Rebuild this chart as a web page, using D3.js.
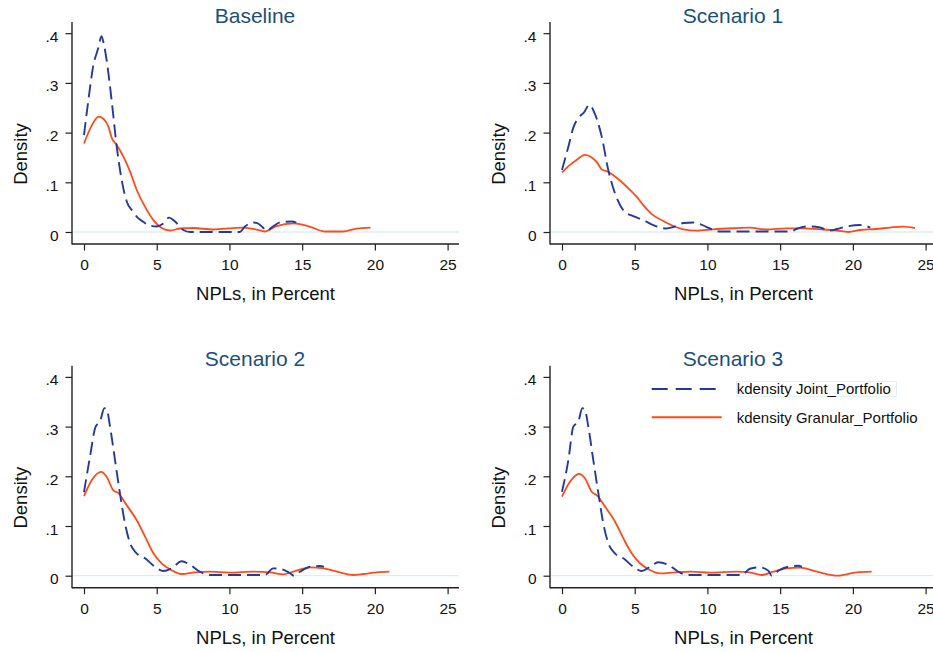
<!DOCTYPE html>
<html>
<head>
<meta charset="utf-8">
<script src="https://cdn.jsdelivr.net/npm/d3@7"></script>
<style>
  html, body { margin: 0; padding: 0; background: #ffffff; }
  svg { display: block; font-family: "Liberation Sans", Arial, Helvetica, sans-serif; }
</style>
</head>
<body>
<svg id="chart" width="933" height="652"></svg>
<script>
// ---------- DATA ----------
const panelTitles = ["Baseline", "Scenario 1", "Scenario 2", "Scenario 3"];
const seriesNames = ["kdensity Joint_Portfolio", "kdensity Granular_Portfolio"];
const xTicks = [0, 5, 10, 15, 20, 25];
const yTicks = [0, 0.1, 0.2, 0.3, 0.4];
const yTickLabels = ["0", ".1", ".2", ".3", ".4"];
const xAxisTitle = "NPLs, in Percent";
const yAxisTitle = "Density";

// [NPL percent, density]
const baselineJoint = [[0,0.195],[0.3,0.265],[0.64,0.335],[0.98,0.37],[1.2,0.394],[1.35,0.38],[1.56,0.345],[1.9,0.265],[2.25,0.172],[2.59,0.105],[2.93,0.062],[3.4,0.04],[3.62,0.031],[4.1,0.02],[4.42,0.014],[5.0,0.011],[5.4,0.016],[5.85,0.029],[6.26,0.021],[6.83,0.004],[7.3,0],[10.7,0],[11.07,0.011],[11.64,0.019],[11.9,0.018],[12.3,0.009],[12.56,0.002],[12.9,0.009],[13.5,0.0195],[14.28,0.021],[14.6,0.019]];
const baselineGranular = [[0,0.178],[0.53,0.214],[1.0,0.232],[1.33,0.228],[1.68,0.212],[1.9,0.19],[2.25,0.175],[2.7,0.152],[3.16,0.122],[3.62,0.085],[4.19,0.051],[4.77,0.024],[5.34,0.008],[5.91,0.003],[6.6,0.007],[7.5,0.008],[8.9,0.005],[10.27,0.008],[10.95,0.009],[11.87,0.005],[12.45,0.001],[13.24,0.012],[14.4,0.0175],[15.5,0.011],[16.57,0.001],[17.8,0.001],[18.75,0.007],[19.7,0.009]];

const scenario1Joint = [[0,0.125],[0.44,0.172],[0.78,0.21],[1.24,0.233],[1.5,0.24],[1.88,0.256],[2.27,0.237],[2.73,0.192],[3.18,0.125],[3.64,0.078],[4.33,0.04],[4.9,0.032],[5.59,0.024],[6.28,0.014],[7.19,0.007],[7.65,0.01],[8.34,0.018],[9.03,0.019],[9.5,0.016],[9.95,0.01],[10.86,0.001],[15.68,0.001],[16.2,0.007],[16.8,0.011],[17.2,0.011],[17.74,0.009],[18.4,0.003],[18.9,0.006],[19.57,0.011],[20.5,0.014],[21.2,0.009]];
const scenario1Granular = [[0,0.12],[0.55,0.135],[1.0,0.145],[1.58,0.155],[2.04,0.15],[2.38,0.141],[2.73,0.126],[3.18,0.121],[3.76,0.109],[4.45,0.091],[5.13,0.071],[5.59,0.054],[6.17,0.036],[6.97,0.022],[7.65,0.012],[8.34,0.0054],[9.26,0.0027],[10.4,0.0054],[11.78,0.0075],[12.9,0.0087],[14.07,0.005],[15.44,0.0074],[16.6,0.0074],[17.96,0.005],[18.9,0.003],[19.68,0.0],[20.5,0.004],[21.6,0.006],[22.55,0.009],[23.46,0.011],[24.27,0.008]];

const scenario2Joint = [[0,0.168],[0.41,0.239],[0.8,0.3],[1.1,0.31],[1.4,0.337],[1.56,0.335],[1.79,0.3],[2.13,0.233],[2.47,0.166],[2.82,0.105],[3.16,0.066],[3.62,0.045],[4.19,0.035],[4.88,0.018],[5.45,0.0094],[6.03,0.015],[6.71,0.029],[7.29,0.022],[7.97,0.008],[8.55,0.0015],[12.45,0.0015],[13.0,0.0148],[13.59,0.013],[14.16,0.005],[14.44,0],[14.85,0.008],[15.54,0.018],[16.2,0.0195],[16.5,0.018]];
const scenario2Granular = [[0,0.16],[0.53,0.192],[1.17,0.209],[1.56,0.199],[2.01,0.172],[2.36,0.166],[2.93,0.142],[3.62,0.112],[4.19,0.079],[4.77,0.045],[5.34,0.025],[5.91,0.013],[6.71,0.0034],[7.63,0.0067],[8.7,0.008],[10.04,0.0061],[11.64,0.0081],[12.79,0.0067],[13.7,0.0028],[14.39,0.0081],[15.54,0.0168],[16.45,0.0148],[17.6,0.0067],[18.5,0.0014],[19.2,0.0034],[20.1,0.0067],[21.0,0.0081]];

const scenario3Joint = [[0,0.169],[0.44,0.233],[0.78,0.3],[1.12,0.31],[1.4,0.337],[1.58,0.333],[1.81,0.3],[2.15,0.233],[2.5,0.166],[2.84,0.105],[3.18,0.066],[3.64,0.045],[4.22,0.035],[4.9,0.018],[5.48,0.0094],[6.05,0.018],[6.62,0.027],[7.3,0.022],[8.0,0.008],[8.57,0.0015],[12.35,0.0015],[12.92,0.014],[13.6,0.0168],[14.19,0.0101],[14.42,0],[14.88,0.0101],[15.56,0.018],[16.25,0.02],[16.5,0.018]];
const scenario3Granular = [[0,0.159],[0.55,0.189],[1.17,0.205],[1.58,0.196],[2.04,0.169],[2.38,0.162],[2.96,0.139],[3.64,0.109],[4.22,0.075],[4.79,0.045],[5.36,0.025],[5.94,0.013],[6.74,0.0047],[7.77,0.0067],[8.9,0.008],[10.18,0.006],[12.0,0.008],[12.9,0.0067],[13.73,0.0014],[14.53,0.0081],[15.45,0.0148],[16.36,0.0161],[17.51,0.0081],[19.0,0.0],[20.26,0.0067],[21.29,0.0081]];

// ---------- LAYOUT ----------
const jointColor = "#27399a";
const granularColor = "#ff4b1c";
const titleColor = "#1b4f7a";
const axisColor = "#222222";
const zeroLineColor = "#dcefef";

const panels = [
  { title: panelTitles[0], joint: baselineJoint, granular: baselineGranular, ox: 0, oy: 0 },
  { title: panelTitles[1], joint: scenario1Joint, granular: scenario1Granular, ox: 478, oy: 0 },
  { title: panelTitles[2], joint: scenario2Joint, granular: scenario2Granular, ox: 0, oy: 343.7 },
  { title: panelTitles[3], joint: scenario3Joint, granular: scenario3Granular, ox: 478, oy: 343.7, legend: true }
];

const svg = d3.select("#chart");

const x = d3.scaleLinear().domain([0, 25]).range([84, 447.6]);
const y = d3.scaleLinear().domain([0, 0.4]).range([232, 33.2]);
const axisLeftX = 72, axisBottomY = 244, axisTopY = 22, axisRightX = 459;

const line = d3.line()
  .x(d => x(d[0]))
  .y(d => y(d[1]))
  .curve(d3.curveMonotoneX);

panels.forEach(p => {
  const g = svg.append("g").attr("transform", `translate(${p.ox},${p.oy})`);

  // title
  g.append("text")
    .attr("x", 255).attr("y", 22.7)
    .attr("text-anchor", "middle")
    .attr("font-size", 21)
    .attr("fill", titleColor)
    .text(p.title);

  // zero line
  g.append("line")
    .attr("x1", axisLeftX).attr("x2", axisRightX)
    .attr("y1", y(0)).attr("y2", y(0))
    .attr("stroke", zeroLineColor).attr("stroke-width", 1.3);

  // axes
  const ya = d3.axisLeft(y).tickValues(yTicks)
    .tickFormat((d, i) => yTickLabels[i]).tickSize(6.5).tickSizeOuter(0).tickPadding(7);
  const yg = g.append("g").attr("transform", `translate(${axisLeftX},0)`).call(ya);
  yg.select(".domain").remove();
  yg.selectAll(".tick line").attr("stroke", axisColor).attr("stroke-width", 1.2);
  yg.selectAll(".tick text")
    .attr("font-size", 15.5).attr("fill", "#111")
    .attr("font-family", "'Liberation Sans', Arial, sans-serif")
    .attr("dy", "0.52em");

  const xa = d3.axisBottom(x).tickValues(xTicks).tickSize(6.5).tickSizeOuter(0);
  const xg = g.append("g").attr("transform", `translate(0,${axisBottomY})`).call(xa);
  xg.select(".domain").remove();
  xg.selectAll(".tick line").attr("stroke", axisColor).attr("stroke-width", 1.2);
  xg.selectAll(".tick text")
    .attr("font-size", 15.5).attr("fill", "#111")
    .attr("font-family", "'Liberation Sans', Arial, sans-serif")
    .attr("y", 26).attr("dy", 0);

  g.append("line")
    .attr("x1", axisLeftX).attr("x2", axisLeftX)
    .attr("y1", axisTopY).attr("y2", axisBottomY + 0.6)
    .attr("stroke", axisColor).attr("stroke-width", 1.4);
  g.append("line")
    .attr("x1", axisLeftX).attr("x2", axisRightX)
    .attr("y1", axisBottomY).attr("y2", axisBottomY)
    .attr("stroke", axisColor).attr("stroke-width", 1.4);

  // axis titles
  g.append("text")
    .attr("x", (axisLeftX + axisRightX) / 2).attr("y", 300)
    .attr("text-anchor", "middle")
    .attr("font-size", 18.5).attr("fill", "#111")
    .text(xAxisTitle);
  g.append("text")
    .attr("transform", `translate(27,${(axisTopY + axisBottomY) / 2 + 21}) rotate(-90)`)
    .attr("text-anchor", "middle")
    .attr("font-size", 18.5).attr("fill", "#111")
    .text(yAxisTitle);

  // curves
  g.append("path").datum(p.granular)
    .attr("d", line).attr("fill", "none")
    .attr("stroke", granularColor).attr("stroke-width", 1.8);
  g.append("path").datum(p.joint)
    .attr("d", line).attr("fill", "none")
    .attr("stroke", jointColor).attr("stroke-width", 1.9)
    .attr("stroke-dasharray", "13,6");

  if (p.legend) {
    const lg = g.append("g");
    const items = [
      { name: seriesNames[0], color: jointColor, dash: "16,8", y: 45.3 },
      { name: seriesNames[1], color: granularColor, dash: null, y: 73.6 }
    ];
    items.forEach((it, i) => {
      lg.append("line")
        .attr("x1", 173.7).attr("x2", 243.7)
        .attr("y1", it.y).attr("y2", it.y)
        .attr("stroke", it.color).attr("stroke-width", 1.9)
        .attr("stroke-dasharray", it.dash);
      if (i === 0) {
        lg.append("rect")
          .attr("x", 258.5).attr("y", it.y - 7.5)
          .attr("width", 160).attr("height", 15)
          .attr("fill", "none").attr("stroke", "#e2f1f1").attr("stroke-width", 1);
      }
      lg.append("text")
        .attr("x", 258.7).attr("y", it.y + 5.3)
        .attr("font-size", 15).attr("fill", "#111")
        .text(it.name);
    });
  }
});
</script>
</body>
</html>
